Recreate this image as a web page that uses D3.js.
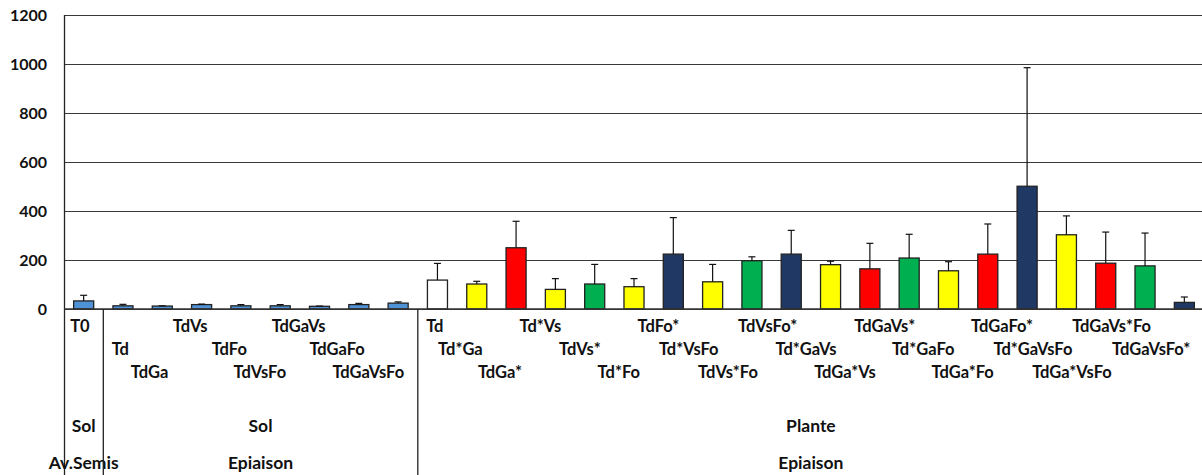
<!DOCTYPE html>
<html>
<head>
<meta charset="utf-8">
<script src="https://cdn.jsdelivr.net/npm/d3@7"></script>
<style>
  html, body { margin: 0; padding: 0; background: #fff; }
  svg { display: block; }
  text { font-family: Lato, "Open Sans", sans-serif; font-weight: bold; fill: #111; }
</style>
</head>
<body>
<svg id="chart" width="1202" height="475"></svg>
<script>
// Treatment labels, one per bar
const labels = [
  "T0",
  "Td", "TdGa", "TdVs", "TdFo", "TdVsFo", "TdGaVs", "TdGaFo", "TdGaVsFo",
  "Td", "Td*Ga", "TdGa*", "Td*Vs", "TdVs*", "Td*Fo", "TdFo*", "Td*VsFo", "TdVs*Fo", "TdVsFo*",
  "Td*GaVs", "TdGa*Vs", "TdGaVs*", "Td*GaFo", "TdGa*Fo", "TdGaFo*", "Td*GaVsFo", "TdGa*VsFo", "TdGaVs*Fo", "TdGaVsFo*"
];
// Mean values
const values = [
  33,
  13, 12, 18, 13, 13, 11, 18, 24,
  118, 102, 250, 80, 102, 91, 224, 111, 197, 224,
  181, 164, 208, 156, 224, 501, 303, 187, 176, 27
];
// Standard deviations (upper error bars)
const errors = [
  23,
  6, 1, 2, 5, 5, 1, 5, 5,
  68, 11, 108, 44, 80, 33, 149, 71, 16, 97,
  14, 104, 97, 37, 123, 484, 77, 127, 134, 22
];
// Bar fill per category
const fills = [
  "#4f93d6",
  "#4f93d6", "#4f93d6", "#4f93d6", "#4f93d6", "#4f93d6", "#4f93d6", "#4f93d6", "#4f93d6",
  "#ffffff", "#ffff00", "#ff0000", "#ffff00", "#00b050", "#ffff00", "#1f3864", "#ffff00", "#00b050", "#1f3864",
  "#ffff00", "#ff0000", "#00b050", "#ffff00", "#ff0000", "#1f3864", "#ffff00", "#ff0000", "#00b050", "#1f3864"
];
// Grouping rows under the axis
const groupStart = [0, 1, 9];
const groupEnd = [0, 8, 28];
const groupMatrix = ["Sol", "Sol", "Plante"];
const groupStage = ["Av.Semis", "Epiaison", "Epiaison"];
const yTicks = [0, 200, 400, 600, 800, 1000, 1200];

const svg = d3.select("#chart");
const mLeft = 64, mRight = 1204, mTop = 15, mBottom = 309, H = 475;

const x = d3.scaleBand()
  .domain(d3.range(labels.length))
  .range([mLeft, mRight])
  .paddingInner(0.49)
  .paddingOuter(0.245);
const step = x.step();

const y = d3.scaleLinear().domain([0, 1200]).range([mBottom, mTop]);

// Horizontal gridlines
svg.append("g")
  .selectAll("line")
  .data(yTicks)
  .join("line")
  .attr("x1", mLeft).attr("x2", mRight)
  .attr("y1", d => Math.round(y(d)) + 0.5)
  .attr("y2", d => Math.round(y(d)) + 0.5)
  .attr("stroke", "#3a3a3a")
  .attr("stroke-width", 1.2);

// Y axis labels
const yAxis = d3.axisLeft(y).tickValues(yTicks).tickFormat(d3.format("d")).tickSize(0).tickPadding(17);
const gy = svg.append("g").attr("transform", `translate(${mLeft},0)`).call(yAxis);
gy.select(".domain").remove();
gy.selectAll("text")
  .attr("font-family", "Lato, sans-serif")
  .attr("font-weight", "bold")
  .attr("font-size", 16)
  .attr("fill", "#111");

// Bars
svg.append("g")
  .selectAll("rect")
  .data(values)
  .join("rect")
  .attr("x", (d, i) => x(i))
  .attr("y", d => y(d))
  .attr("width", x.bandwidth())
  .attr("height", d => y(0) - y(d))
  .attr("fill", (d, i) => fills[i])
  .attr("stroke", "#222")
  .attr("stroke-width", 1.3);

// Error bars (upper only)
const eb = svg.append("g").attr("stroke", "#111").attr("stroke-width", 1.2);
values.forEach((v, i) => {
  const cx = x(i) + x.bandwidth() / 2;
  eb.append("line").attr("x1", cx).attr("x2", cx)
    .attr("y1", y(v)).attr("y2", y(v + errors[i]));
  eb.append("line").attr("x1", cx - 3.5).attr("x2", cx + 3.5)
    .attr("y1", y(v + errors[i])).attr("y2", y(v + errors[i]));
});

// Plot frame: left axis and baseline
svg.append("line").attr("x1", mLeft + 0.5).attr("x2", mLeft + 0.5)
  .attr("y1", mTop).attr("y2", H).attr("stroke", "#222").attr("stroke-width", 1.3);
svg.append("line").attr("x1", mLeft).attr("x2", mRight)
  .attr("y1", y(0)).attr("y2", y(0)).attr("stroke", "#333").attr("stroke-width", 1.5);

// Category labels, right end under each bar, staggered on three rows
const rowY = [332, 355, 378];
svg.append("g")
  .selectAll("text")
  .data(labels)
  .join("text")
  .attr("x", (d, i) => x(i) + x.bandwidth() / 2 + 6)
  .attr("y", (d, i) => rowY[i % 3])
  .attr("text-anchor", "end")
  .attr("font-size", 16.5)
  .text(d => d);

// Group separators and labels under the axis
groupStart.forEach((s, g) => {
  if (g > 0) {
    const xs = mLeft + s * step;
    svg.append("line").attr("x1", xs).attr("x2", xs)
      .attr("y1", mBottom).attr("y2", H).attr("stroke", "#222").attr("stroke-width", 1.3);
  }
  const x0 = mLeft + s * step;
  const x1 = Math.min(mLeft + (groupEnd[g] + 1) * step, mRight);
  const cx = (x0 + x1) / 2;
  svg.append("text").attr("x", cx).attr("y", 432).attr("text-anchor", "middle")
    .attr("font-size", 17.5).text(groupMatrix[g]);
  svg.append("text").attr("x", cx).attr("y", 469).attr("text-anchor", "middle")
    .attr("font-size", 17.5).text(groupStage[g]);
});
</script>
</body>
</html>
